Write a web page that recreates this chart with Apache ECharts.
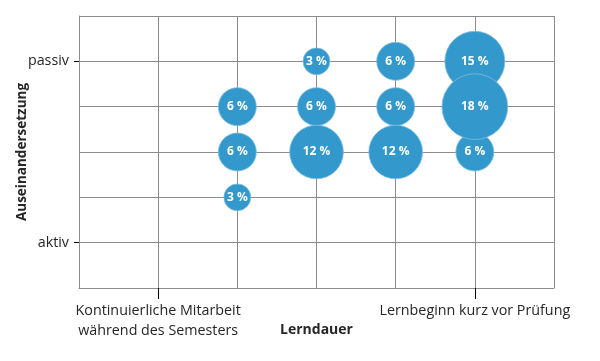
<!DOCTYPE html>
<html>
<head>
<meta charset="utf-8">
<script src="https://cdn.jsdelivr.net/npm/echarts@6/dist/echarts.min.js"></script>
<style>html,body{margin:0;padding:0;background:#fff}#c{width:600px;height:361px}</style>
</head>
<body>
<div id="c"></div>
<script>
// Data
var xValues = [2, 2, 2, 3, 3, 3, 4, 4, 4, 5, 5, 5];
var yValues = [4, 3, 2, 5, 4, 3, 5, 4, 3, 5, 3, 4];
var shares  = [6, 6, 3, 3, 6, 12, 6, 6, 12, 15, 6, 18];
var xTickValues = [1, 5];
var xTickLabels = ['Kontinuierliche Mitarbeit\nwährend des Semesters', 'Lernbeginn kurz vor Prüfung'];
var yTickValues = [1, 5];
var yTickLabels = ['aktiv', 'passiv'];
var xTitle = 'Lerndauer';
var yTitle = 'Auseinandersetzung';

var points = xValues.map(function (x, i) { return [x, yValues[i], shares[i]]; });
var font = '"Open Sans", "Noto Sans", sans-serif';
var textColor = '#262626';
var gridColor = '#8c8c8c';

var chart = echarts.init(document.getElementById('c'), null, { renderer: 'canvas' });
chart.setOption({
  animation: false,
  backgroundColor: '#fff',
  grid: { left: 79, right: 46, top: 16, bottom: 73 },
  xAxis: [{
    type: 'value', min: 0, max: 6, interval: 1,
    axisLine: { show: true, lineStyle: { color: gridColor, width: 1 } },
    axisTick: { show: false }, axisLabel: { show: false },
    splitLine: { show: true, lineStyle: { color: gridColor, width: 1 } },
    name: xTitle, nameLocation: 'middle', nameGap: 35,
    nameTextStyle: { fontFamily: font, fontWeight: 'bold', fontSize: 14, color: textColor }
  }, {
    type: 'value', min: 0, max: 6, position: 'bottom',
    axisLine: { show: false },
    splitLine: { show: false },
    axisTick: { show: true, customValues: xTickValues, length: 11, lineStyle: { color: '#000', width: 1 } },
    axisLabel: {
      show: true, customValues: xTickValues, margin: 13,
      fontFamily: font, fontSize: 14.3, color: textColor, lineHeight: 20,
      formatter: function (v) { var i = xTickValues.indexOf(v); return i >= 0 ? xTickLabels[i] : ''; }
    }
  }],
  yAxis: [{
    type: 'value', min: 0, max: 6, interval: 1,
    axisLine: { show: true, lineStyle: { color: gridColor, width: 1 } },
    axisTick: { show: false }, axisLabel: { show: false },
    splitLine: { show: true, lineStyle: { color: gridColor, width: 1 } },
    name: yTitle, nameLocation: 'middle', nameGap: 50, nameRotate: 90,
    nameTextStyle: { fontFamily: font, fontWeight: 'bold', fontSize: 13.5, color: textColor }
  }, {
    type: 'value', min: 0, max: 6, position: 'left',
    axisLine: { show: false }, splitLine: { show: false },
    axisTick: { show: true, customValues: yTickValues, length: 5, lineStyle: { color: '#000', width: 1 } },
    axisLabel: {
      show: true, customValues: yTickValues, margin: 10,
      fontFamily: font, fontSize: 14.3, color: textColor,
      formatter: function (v) { var i = yTickValues.indexOf(v); return i >= 0 ? yTickLabels[i] : ''; }
    }
  }],
  series: [{
    type: 'scatter',
    xAxisIndex: 0, yAxisIndex: 0,
    data: points,
    symbolSize: function (d) { return 15.5 * Math.sqrt(d[2]); },
    itemStyle: { color: '#3399cc', opacity: 1, borderColor: '#7fbde0', borderWidth: 0.8 },
    label: {
      show: true, position: 'inside',
      formatter: function (p) { return p.value[2] + ' %'; },
      color: '#fff', fontFamily: font, fontWeight: 'bold', fontSize: 12
    }
  }]
});
</script>
</body>
</html>
